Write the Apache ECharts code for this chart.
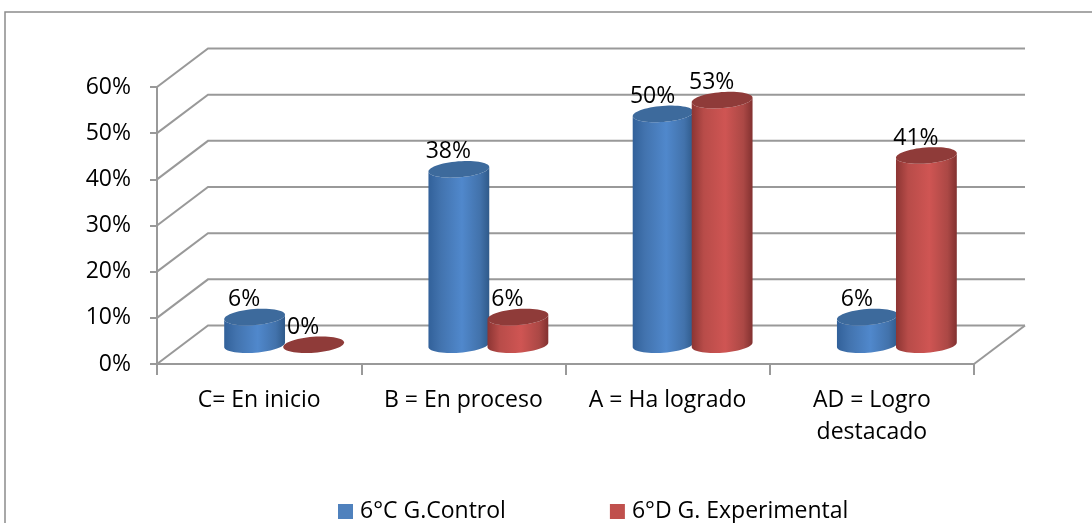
<!DOCTYPE html>
<html><head><meta charset="utf-8">
<style>html,body{margin:0;padding:0;background:#fff;overflow:hidden}#c{width:1092px;height:523px}</style>
<script src="https://cdn.jsdelivr.net/npm/echarts@6/dist/echarts.min.js"></script>
</head><body><div id="c"></div>
<script>
const categories = ['C= En inicio', 'B = En proceso', 'A = Ha logrado', 'AD = Logro\ndestacado'];
const seriesNames = ['6°C G.Control', '6°D G. Experimental'];
const controlValues = [0.06, 0.38, 0.50, 0.06];
const experimentalValues = [0.00, 0.06, 0.53, 0.41];
const yTickValues = [0, 0.1, 0.2, 0.3, 0.4, 0.5, 0.6];

const FONT = '"Open Sans"';
const TEXT = '#000';
const LINE = '#999';
const DEPTH_X = 51, DEPTH_Y = 38.5;
const RX = 30.5, RY = 8, TILT = -4.5 * Math.PI / 180;

function ellipsePts(cx, cy, from, to, n) {
  const pts = [];
  for (let i = 0; i <= n; i++) {
    const t = from + (to - from) * i / n;
    const ex = RX * Math.cos(t), ey = RY * Math.sin(t);
    pts.push([cx + ex * Math.cos(TILT) - ey * Math.sin(TILT),
              cy + ex * Math.sin(TILT) + ey * Math.cos(TILT)]);
  }
  return pts;
}
function hGrad(stops) {
  return {type: 'linear', x: 0, y: 0, x2: 1, y2: 0,
    colorStops: stops.map(c => ({offset: c[0], color: c[1]}))};
}
const palettes = [
  {body: hGrad([[0,'#32619a'],[0.2,'#4273ae'],[0.55,'#5088cc'],[0.85,'#4272ab'],[1,'#2f5a8a']]), top: '#3d6a9c'},
  {body: hGrad([[0,'#8c3533'],[0.2,'#b84c49'],[0.55,'#cf5553'],[0.85,'#ab4845'],[1,'#823130']]), top: '#8f3b39'}
];
function cylinderRenderer(idx, side) {
  return function (params, api) {
    const v = api.value(1), c = api.value(0);
    const band = api.size([1, 0])[0];
    const top = api.coord([c, v]), base = api.coord([c, 0]);
    const dx = DEPTH_X / 2 + side * band * 0.1445 - 0.5, dy = -DEPTH_Y / 2;
    const cx = top[0] + dx, yT = top[1] + dy, yB = base[1] + dy;
    const children = [];
    if (v > 0) {
      children.push({type: 'polygon',
        shape: {points: ellipsePts(cx, yB, 0, Math.PI, 30).concat(ellipsePts(cx, yT, Math.PI, 0, 30))},
        style: {fill: palettes[idx].body}});
    }
    children.push({type: 'polygon',
      shape: {points: ellipsePts(cx, yT, 0, Math.PI * 2, 60)},
      style: {fill: palettes[idx].top}});
    children.push({type: 'text', z2: 50,
      style: {text: Math.round(v * 100) + '%', x: cx - 10.5, y: yT - 17.5, align: 'center', verticalAlign: 'middle',
        font: '23px ' + FONT, fill: TEXT}});
    return {type: 'group', children};
  };
}
function wallRenderer(params, api) {
  const s = params.coordSys;
  const y = api.coord([0, api.value(0)])[1];
  const children = [{type: 'polyline',
    shape: {points: [[s.x, y], [s.x + DEPTH_X, y - DEPTH_Y], [s.x + s.width + DEPTH_X, y - DEPTH_Y]]},
    style: {fill: 'none', stroke: LINE, lineWidth: 2}}];
  if (api.value(0) === 0) {
    children.push({type: 'line',
      shape: {x1: s.x + s.width, y1: y, x2: s.x + s.width + DEPTH_X, y2: y - DEPTH_Y},
      style: {stroke: LINE, lineWidth: 2}});
  }
  return {type: 'group', children};
}
const axisLine = {show: true, lineStyle: {color: LINE, width: 2}};
const chart = echarts.init(document.getElementById('c'), null, {renderer: 'canvas'});
chart.setOption({
  animation: false,
  backgroundColor: '#fff',
  graphic: [{type: 'polyline', silent: true,
    shape: {points: [[5, 523], [5, 12], [1092, 12]]},
    style: {fill: 'none', stroke: '#8c8c8c', lineWidth: 1.5}}],
  grid: {left: 157, right: 118, top: 87, bottom: 159, containLabel: false},
  legend: {
    left: 333, top: 495, itemWidth: 15, itemHeight: 15, itemGap: 104,
    data: seriesNames.map(n => ({name: n, icon: 'rect'})),
    textStyle: {fontFamily: FONT, fontSize: 23, color: TEXT, padding: [0, 0, 0, 2]}
  },
  xAxis: {type: 'category', data: categories, axisLine,
    axisTick: {show: true, length: 11, lineStyle: {color: LINE, width: 2}},
    axisLabel: {fontFamily: FONT, fontSize: 23, color: TEXT, lineHeight: 32, margin: 20, interval: 0},
    splitLine: {show: false}},
  yAxis: {type: 'value', min: 0, max: 0.6, interval: 0.1, axisLine,
    axisTick: {show: true, length: 7, lineStyle: {color: LINE, width: 2}},
    axisLabel: {fontFamily: FONT, fontSize: 23, color: TEXT, margin: 26, padding: [9, 0, 0, 0], formatter: v => Math.round(v * 100) + '%'},
    splitLine: {show: false}},
  series: [
    {type: 'custom', name: 'wall', z: 1, silent: true, renderItem: wallRenderer,
      data: yTickValues.map(v => [v]), encode: {y: 0}, clip: false},
    {type: 'custom', name: seriesNames[0], z: 3, renderItem: cylinderRenderer(0, -1),
      itemStyle: {color: '#4f81bd'},
      data: controlValues.map((v, i) => [i, v]), encode: {x: 0, y: 1}, clip: false},
    {type: 'custom', name: seriesNames[1], z: 4, renderItem: cylinderRenderer(1, 1),
      itemStyle: {color: '#c0504d'},
      data: experimentalValues.map((v, i) => [i, v]), encode: {x: 0, y: 1}, clip: false}
  ]
});
</script></body></html>
